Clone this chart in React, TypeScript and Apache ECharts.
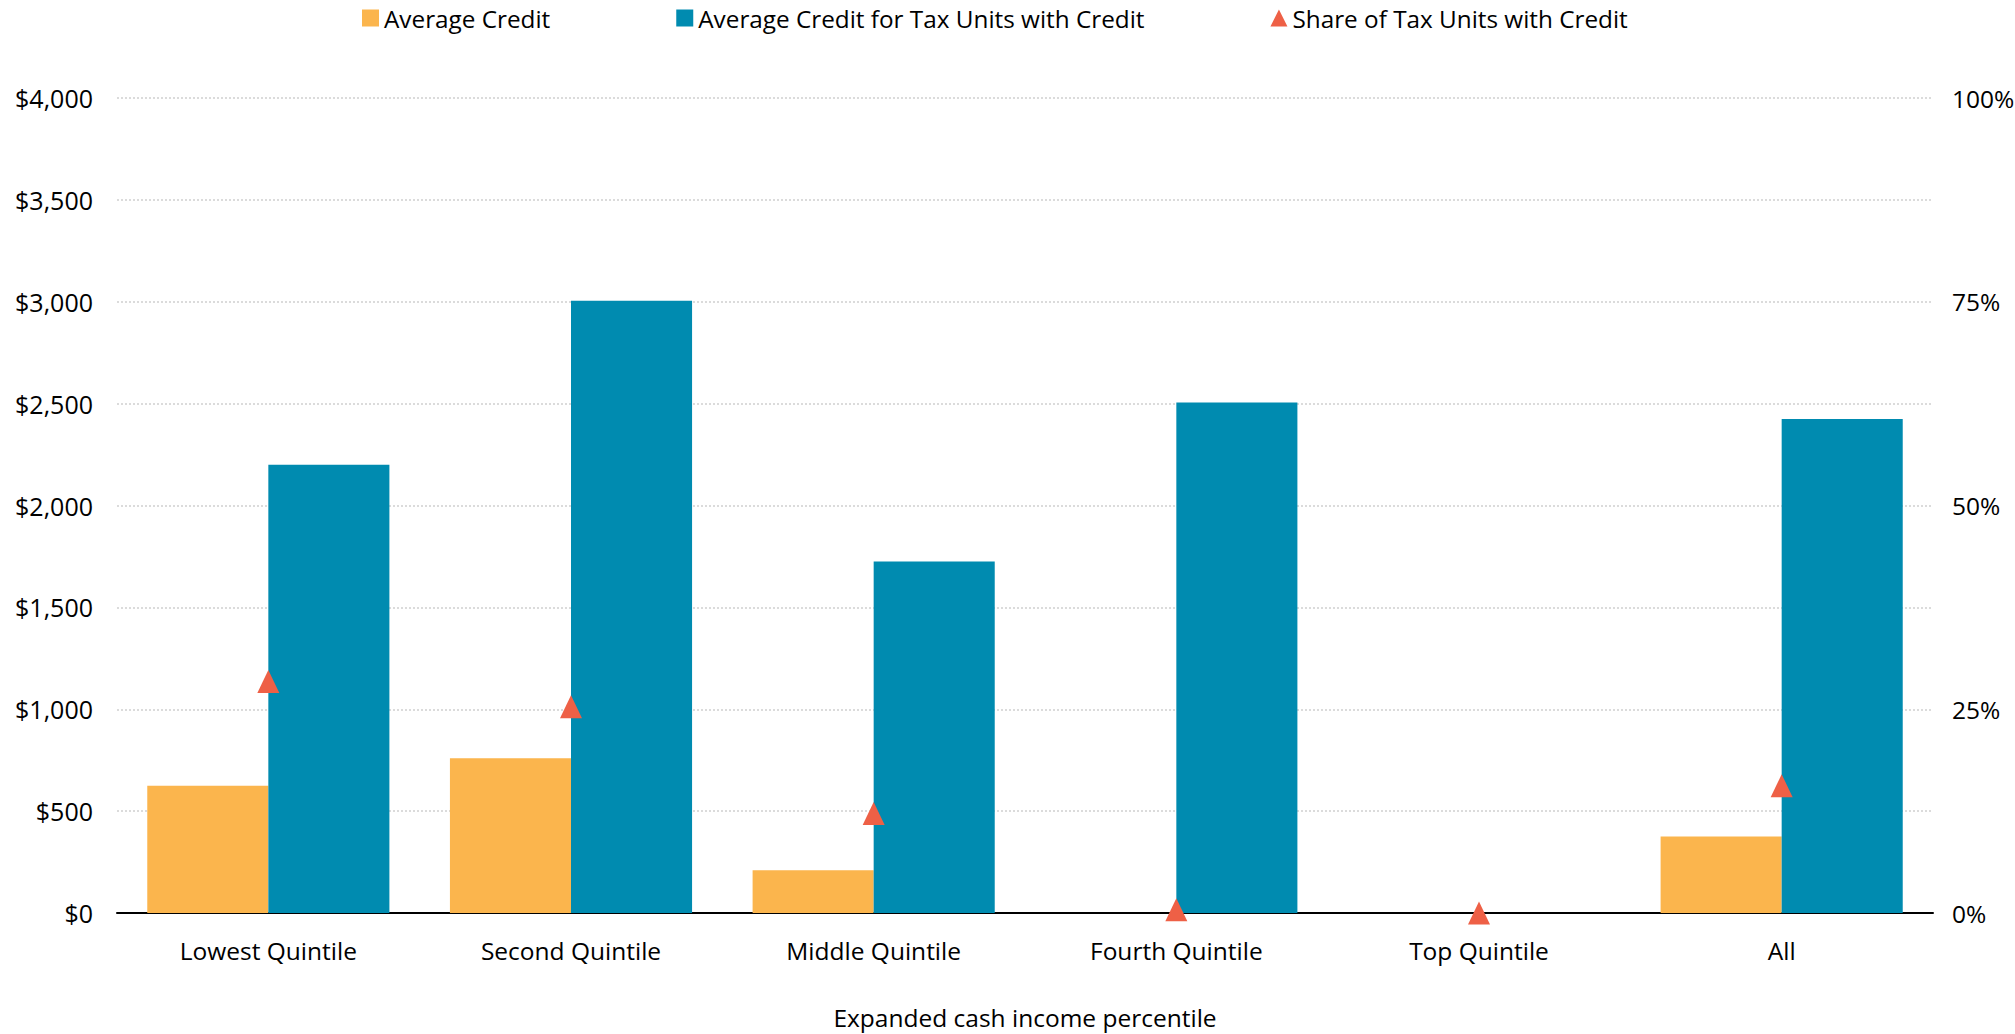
import React, { useEffect, useRef } from "react";
import * as echarts from "echarts";

const categories = ["Lowest Quintile", "Second Quintile", "Middle Quintile", "Fourth Quintile", "Top Quintile", "All"];
const averageCredit = [625, 760, 210, 0, 0, 375];
const averageCreditWithCredit = [2200, 3005, 1725, 2505, 0, 2425];
const shareWithCredit = [0.284, 0.253, 0.122, 0.004, 0.0, 0.156];
const leftTicks = { min: 0, max: 4000, interval: 500 };
const rightTicks = { min: 0, max: 1, interval: 0.25 };

const FONT = "Open Sans";
const TEXT = "#000000";

export default function App() {
  const ref = useRef<HTMLDivElement>(null);
  useEffect(() => {
    if (!ref.current) return;
    const chart = echarts.init(ref.current, undefined, { renderer: "svg" });
    chart.setOption({
      animation: false,
      textStyle: { fontFamily: FONT, color: TEXT },
      legend: {
        left: 357,
        top: 1,
        itemGap: 126,
        itemWidth: 17,
        itemHeight: 17,
        textStyle: { fontFamily: FONT, fontSize: 24.3, color: TEXT },
        data: [
          { name: "Average Credit", icon: "rect" },
          { name: "Average Credit for Tax Units with Credit", icon: "rect" },
          { name: "Share of Tax Units with Credit", icon: "triangle", itemStyle: { opacity: 1 } },
        ],
      },
      grid: {
        left: 117,
        right: 82,
        top: 98,
        bottom: 1034 - 913,
        containLabel: false,
        outerBoundsMode: "none",
      },
      xAxis: {
        type: "category",
        data: categories,
        axisLine: { lineStyle: { color: "#000", width: 2 } },
        axisTick: { show: false },
        axisLabel: { fontFamily: FONT, fontSize: 24.5, color: TEXT, margin: 25 },
        name: "Expanded cash income percentile",
        nameLocation: "middle",
        nameGap: 92,
        nameTextStyle: { fontFamily: FONT, fontSize: 24.5, color: TEXT },
      },
      yAxis: [
        {
          type: "value",
          min: leftTicks.min,
          max: leftTicks.max,
          interval: leftTicks.interval,
          axisLine: { show: false },
          axisTick: { show: false },
          axisLabel: {
            fontFamily: FONT,
            fontSize: 25,
            color: TEXT,
            margin: 24,
            formatter: (v: number) => "$" + v.toLocaleString("en-US"),
          },
          splitLine: { show: true, lineStyle: { color: "#cfcfcf", type: [2, 2], width: 1.5 } },
        },
        {
          type: "value",
          min: rightTicks.min,
          max: rightTicks.max,
          interval: rightTicks.interval,
          axisLine: { show: false },
          axisTick: { show: false },
          axisLabel: {
            fontFamily: FONT,
            fontSize: 24.5,
            color: TEXT,
            margin: 19,
            formatter: (v: number) => Math.round(v * 100) + "%",
          },
          splitLine: { show: false },
        },
      ],
      series: [
        {
          name: "Average Credit",
          type: "bar",
          data: averageCredit,
          barGap: "0%",
          barCategoryGap: "20%",
          itemStyle: { color: "#FBB54D" },
        },
        {
          name: "Average Credit for Tax Units with Credit",
          type: "bar",
          data: averageCreditWithCredit,
          barGap: "0%",
          barCategoryGap: "20%",
          itemStyle: { color: "#008BB0" },
        },
        {
          name: "Share of Tax Units with Credit",
          type: "scatter",
          yAxisIndex: 1,
          data: shareWithCredit,
          symbol: "triangle",
          symbolSize: [22, 23],
          itemStyle: { color: "#EE6046", opacity: 1 },
          z: 5,
        },
      ],
    });
    return () => chart.dispose();
  }, []);
  return (
    <div
      ref={ref}
      style={{ position: "fixed", left: 0, top: 0, width: 2015, height: 1034, background: "#fff" }}
    />
  );
}
